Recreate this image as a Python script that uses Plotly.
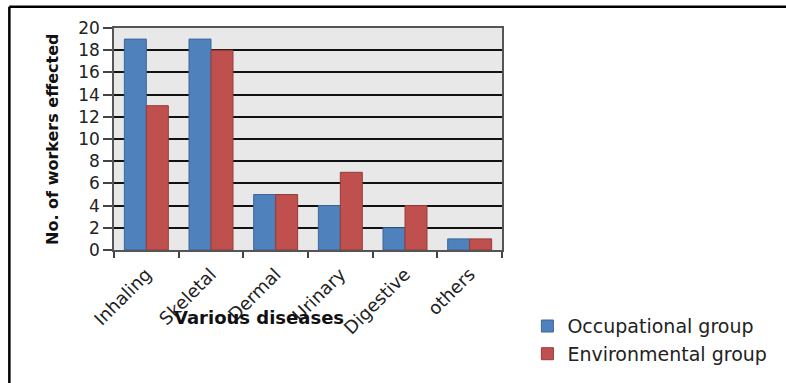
import plotly.graph_objects as go

diseases = ["Inhaling", "Skeletal", "Dermal", "Urinary", "Digestive", "others"]
occupational = [19, 19, 5, 4, 2, 1]
environmental = [13, 18, 5, 7, 4, 1]
y_ticks = [0, 2, 4, 6, 8, 10, 12, 14, 16, 18, 20]

FONT = "DejaVu Sans"

fig = go.Figure()
fig.add_trace(go.Bar(
    x=diseases, y=occupational, name="Occupational group",
    marker=dict(color="#4f81bd", line=dict(color="#3c6796", width=1)),
))
fig.add_trace(go.Bar(
    x=diseases, y=environmental, name="Environmental group",
    marker=dict(color="#c0504d", line=dict(color="#933d3a", width=1)),
))

fig.update_layout(
    width=786, height=383,
    margin=dict(l=114, r=284, t=28, b=133, autoexpand=False),
    paper_bgcolor="white",
    plot_bgcolor="#e8e8e8",
    barmode="group",
    bargap=0.32,
    bargroupgap=0,
    font=dict(family=FONT, color="#222222"),
    showlegend=True,
    legend=dict(
        xref="container", yref="container",
        x=0.671, y=0.198, xanchor="left", yanchor="top",
        font=dict(family=FONT, size=19, color="#222222"),
        bgcolor="rgba(0,0,0,0)", itemwidth=30, tracegroupgap=0,
    ),
    xaxis=dict(
        type="category",
        tickangle=-45,
        tickson="boundaries",
        ticks="outside", ticklen=6, tickcolor="#444444", tickwidth=1.5,
        showline=True, linecolor="#555555", linewidth=1.5, mirror=True,
        tickfont=dict(family=FONT, size=18, color="#222222"),
        ticklabelstandoff=5,
        showgrid=False,
    ),
    yaxis=dict(
        range=[0, 20],
        tickvals=y_ticks,
        ticks="outside", ticklen=9, tickcolor="#444444", tickwidth=1.5,
        showline=True, linecolor="#555555", linewidth=1.5, mirror=True,
        showgrid=True, gridcolor="#111111", gridwidth=1.5,
        tickfont=dict(family=FONT, size=17, color="#222222"),
        zeroline=False,
    ),
    annotations=[
        dict(text="<b>No. of workers effected</b>", textangle=-90,
             xref="paper", yref="paper", x=-0.16, y=0.5,
             xanchor="center", yanchor="middle", showarrow=False,
             font=dict(family=FONT, size=16, color="#111111")),
        dict(text="<b>Various diseases</b>",
             xref="paper", yref="paper", x=0.374, y=-0.306,
             xanchor="center", yanchor="middle", showarrow=False,
             font=dict(family=FONT, size=18, color="#111111")),
    ],
    shapes=[
        # frame lines along the top and left edges of the figure
        dict(type="line", xref="paper", yref="paper",
             x0=-0.27, x1=1.75, y0=1.0955, y1=1.0955,
             line=dict(color="black", width=2.5)),
        dict(type="line", xref="paper", yref="paper",
             x0=-0.2697, x1=-0.2697, y0=1.0955, y1=-0.62,
             line=dict(color="black", width=2.5)),
    ],
)

fig.write_html("out.html")
